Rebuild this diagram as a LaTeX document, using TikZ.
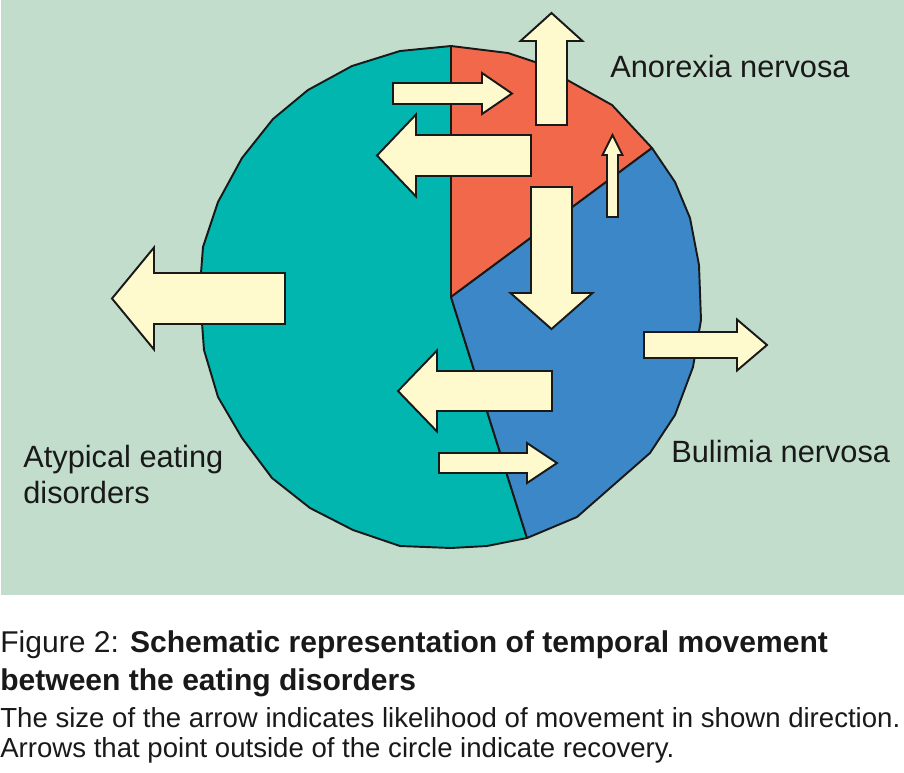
\documentclass[tikz,border=0pt]{standalone}
\usepackage{fontspec}
\setmainfont{Liberation Sans}
\definecolor{bggreen}{RGB}{194,221,204}
\definecolor{atypteal}{RGB}{0,182,174}
\definecolor{anorred}{RGB}{242,104,74}
\definecolor{bulblue}{RGB}{60,135,199}
\definecolor{arrowfill}{RGB}{255,250,206}
% rotation, tail, length, shaft half width, head half width, head length
\newcommand{\fatarrow}[6]{\draw[arrowbody,shift={#2},rotate=#1](0,-#4)--({#3-#6},-#4)--({#3-#6},-#5)--(#3,0)--({#3-#6},#5)--({#3-#6},#4)--(0,#4)--cycle;}
\tikzset{
  slice/.style={draw=black!90,line width=1.1pt,line join=round},
  arrowbody/.style={draw=black!90,fill=arrowfill,line width=1.1pt,line join=miter},
  label/.style={anchor=base west,inner sep=0,font=\fontsize{17.5}{20}\selectfont,text=black!90},
  capline/.style={anchor=base west,inner sep=0,text=black!90}
}
\begin{document}
\begin{tikzpicture}[x=0.02cm,y=-0.02cm]
\useasboundingbox(0,0)rectangle(904,772);
\fill[bggreen](1,0)rectangle(904,595);
% the three slices
\draw[slice,fill=atypteal](451,46)--(400,51)--(352,66)--(308,90)--(273,119)--(242,158)--(218,202)--(203,247)--(201,273)--(202,323)--(204,350)--(218,397)--(242,438)--(272,478)--(310,508)--(353,530)--(400,546)--(451,548)--(487,546)--(527,538)--(451,297)--cycle;
\draw[slice,fill=anorred](451,46)--(508,53)--(535,62)--(612,105)--(652,148)--(451,297)--cycle;
\draw[slice,fill=bulblue](652,148)--(675,182)--(690,218)--(699,265)--(701,320)--(693,367)--(675,415)--(650,453)--(577,517)--(527,538)--(451,297)--cycle;
% movement arrows
\fatarrow{0}{(393,93.5)}{119}{10.5}{20.5}{30}
\fatarrow{180}{(531,155.5)}{154}{20.5}{41}{39}
\fatarrow{90}{(551.5,125)}{112}{15.5}{31}{28}
\fatarrow{90}{(612.5,217)}{82}{5.5}{10}{20}
\fatarrow{-90}{(551.5,187)}{142}{20.5}{41}{36}
\fatarrow{0}{(644,345)}{123}{13}{25.5}{30}
\fatarrow{180}{(552,391)}{154}{20}{40.5}{39}
\fatarrow{0}{(439,463)}{118}{10}{20}{30}
\fatarrow{180}{(285,298.5)}{173}{25.5}{51}{42}
% labels
\node[label](anorexia)at(610,77){Anorexia nervosa};
\node[label](bulimia)at(671,462){Bulimia nervosa};
\node[label](atypical)at(23,467){Atypical eating};
\node[label](disorders)at(23,503){disorders};
% caption
\node[capline,font=\fontsize{17.1}{20}\selectfont](cap1)at(0,652){Figure 2: \textbf{Schematic representation of temporal movement}};
\node[capline,font=\fontsize{17.1}{20}\selectfont\bfseries](cap2)at(0,690){between the eating disorders};
\node[capline,font=\fontsize{15.7}{18}\selectfont](cap3)at(0,727){The size of the arrow indicates likelihood of movement in shown direction.};
\node[capline,font=\fontsize{15.7}{18}\selectfont](cap4)at(0,757){Arrows that point outside of the circle indicate recovery.};
\end{tikzpicture}
\end{document}
